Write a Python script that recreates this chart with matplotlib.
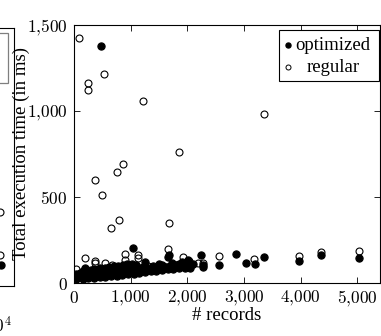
import matplotlib
matplotlib.use("Agg")
import matplotlib.pyplot as plt
from matplotlib.patches import Rectangle
from matplotlib.ticker import FuncFormatter

plt.rcParams['mathtext.fontset'] = 'cm'

# optimized runs (# records, total time in ms)
opt_x = [20, 40, 60, 80, 100, 120, 140, 160, 180, 200, 220, 240, 260, 280, 300,
         320, 340, 360, 380, 400, 420, 440, 460, 480, 500, 520, 540, 560, 580, 600,
         620, 640, 660, 680, 700, 720, 740, 760, 780, 800, 820, 840, 860, 880, 900,
         920, 940, 960, 980, 1000, 1020, 1046, 1060, 1100, 1150, 1222, 1250, 1310, 1370, 1400,
         1450, 1500, 1546, 1600, 1635, 1664, 1670, 1700, 1723, 1760, 1811, 1850, 1899, 1930, 1958,
         2000, 2016, 2050, 2100, 2234, 2269, 2281, 2563, 2857, 3028, 3192, 3351, 3974, 4351, 5032,
         470,
         30, 150, 250, 350, 450, 550, 650, 750, 850, 950, 1050, 1150, 1250, 1350, 1450,
         1550, 1650, 1750, 1850, 1950, 2050]
opt_y = [40, 55, 30, 45, 60, 35, 50, 70, 40, 85, 55, 35, 65, 45, 75,
         55, 40, 80, 60, 50, 70, 45, 85, 60, 75, 50, 90, 65, 80, 55,
         95, 70, 85, 60, 100, 75, 90, 65, 100, 80, 95, 70, 105, 85, 100,
         75, 110, 90, 100, 80, 110, 204, 95, 105, 85, 94, 120, 85, 75, 100,
         90, 110, 104, 95, 94, 149, 160, 100, 114, 95, 104, 110, 123, 100, 114,
         115, 133, 100, 110, 162, 104, 93, 104, 168, 118, 110, 152, 127, 162, 147,
         1376,
         22, 25, 28, 30, 32, 35, 38, 40, 45, 50, 55, 60, 65, 70, 70,
         75, 80, 80, 85, 90, 90]

# regular runs
reg_x = [94, 523, 253, 253, 1223, 3351, 1858, 870, 763, 364, 500, 788, 647, 1670, 1652,
         200, 365, 365, 35, 905, 905, 553, 665, 1134, 1134, 1928, 2034, 2193, 2281, 2563,
         3175, 3974, 4351, 5032, 100, 300, 600, 800, 1000, 1300, 1500, 1800]
reg_y = [1426, 1214, 1160, 1125, 1056, 982, 760, 691, 645, 596, 510, 365, 320, 347, 197,
         147, 127, 116, 81, 166, 133, 114, 104, 162, 145, 152, 129, 114, 114, 158,
         141, 158, 178, 185, 50, 60, 70, 80, 90, 100, 95, 105]

# neighbouring panel (only its right edge is in view)
nb_reg_x = [9.3, 9.3]
nb_reg_y = [430, 180]
nb_opt_x = [9.35]
nb_opt_y = [125]

xticks = [0, 1000, 2000, 3000, 4000, 5000]
yticks = [0, 500, 1000, 1500]

fig = plt.figure(figsize=(3.81, 3.36), dpi=100)

# neighbour panel, mostly off the left edge
nb = fig.add_axes([-0.5, 1 - 286 / 336, 0.5 + 14 / 381, 258 / 336])
nb.plot(nb_reg_x, nb_reg_y, 'o', ms=5, mfc='none', mec='black', mew=0.8)
nb.plot(nb_opt_x, nb_opt_y, 'o', ms=5, mfc='black', mec='black')
nb.set_xlim(0, 10)
nb.set_ylim(0, 1500)
nb.set_xticks([])
nb.set_yticks([])
for s in nb.spines.values():
    s.set_linewidth(0.8)
fig.patches.append(Rectangle((-0.05, 1 - 83 / 336), 0.05 + 8 / 381, 50 / 336,
                             transform=fig.transFigure, fill=False,
                             edgecolor='#7f7f7f', lw=0.9))
fig.text(12 / 381, 1 - 326 / 336, r'$10^4$', ha='right', va='center', fontsize=12.5)

ax = fig.add_axes([74 / 381, 1 - 283 / 336, 306 / 381, 258 / 336])
ax.plot(reg_x, reg_y, 'o', ms=5, mfc='none', mec='black', mew=0.8, zorder=2)
ax.plot(opt_x, opt_y, 'o', ms=5.2, mfc='black', mec='black', mew=0.8, zorder=3)

ax.set_xlim(0, 5400)
ax.set_ylim(0, 1500)
ax.set_xticks(xticks)
ax.set_yticks(yticks)
fmt = FuncFormatter(lambda v, p: '$' + f'{int(v):,}'.replace(',', '{,}') + '$')
ax.xaxis.set_major_formatter(fmt)
ax.yaxis.set_major_formatter(fmt)
ax.tick_params(direction='in', length=4, width=0.6, top=True, right=True,
               labelsize=12.5, pad=4.5)
for s in ax.spines.values():
    s.set_linewidth(0.8)

ax.set_xlabel('# records', family='Liberation Serif', fontsize=13.5, labelpad=-2)
ax.set_ylabel('Total execution time (in ms)', family='Liberation Serif', fontsize=13.5)
ax.yaxis.set_label_coords(-0.145, 0.5)

# legend drawn by hand so the labels sit centred like in pgfplots
ax.add_patch(Rectangle((0.670, 0.783), 0.327, 0.198, transform=ax.transAxes,
                       facecolor='white', edgecolor='black', lw=0.8, zorder=5))
ax.plot([0.699], [0.922], 'o', ms=3.6, mfc='black', mec='black',
        transform=ax.transAxes, zorder=6, clip_on=False)
ax.plot([0.699], [0.837], 'o', ms=3.6, mfc='none', mec='black', mew=0.7,
        transform=ax.transAxes, zorder=6, clip_on=False)
ax.text(0.845, 0.922, 'optimized', transform=ax.transAxes, ha='center', va='center',
        family='Liberation Serif', fontsize=13.5, zorder=6)
ax.text(0.848, 0.837, 'regular', transform=ax.transAxes, ha='center', va='center',
        family='Liberation Serif', fontsize=13.5, zorder=6)

fig.savefig('out.png', dpi=100)
